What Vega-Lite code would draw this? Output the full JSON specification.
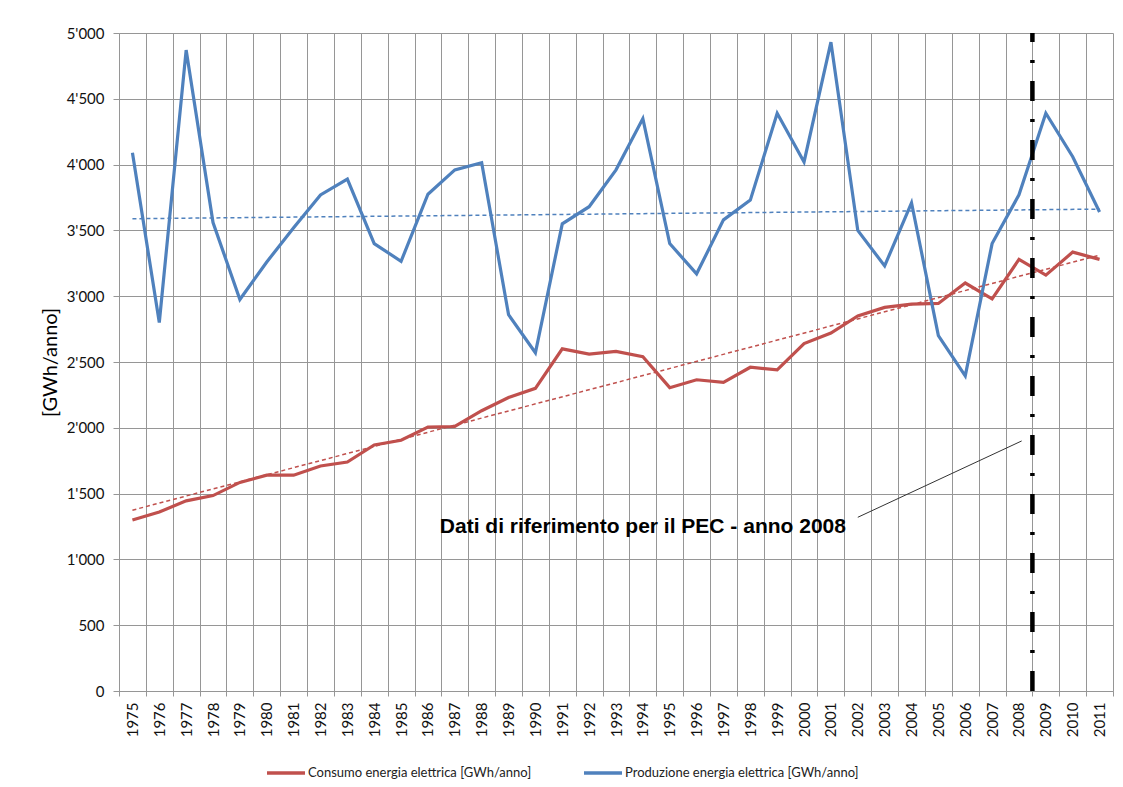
{
  "$schema": "https://vega.github.io/schema/vega-lite/v6.json",
  "width": 994,
  "height": 658,
  "autosize": {"type": "none"},
  "padding": {"left": 119, "top": 33, "right": 10, "bottom": 96},
  "background": "white",
  "config": {
    "font": "Lato",
    "view": {"stroke": null},
    "axis": {"gridColor": "#969696", "domainColor": "#969696", "tickColor": "#969696", "labelColor": "#111111", "labelFont": "Lato", "labelFontSize": 15}
  },
  "resolve": {"axis": {"x": "independent"}},
  "data": {
    "values": [
      {"year": 1975, "series": "Consumo energia elettrica [GWh/anno]", "value": 1300},
      {"year": 1976, "series": "Consumo energia elettrica [GWh/anno]", "value": 1360},
      {"year": 1977, "series": "Consumo energia elettrica [GWh/anno]", "value": 1445},
      {"year": 1978, "series": "Consumo energia elettrica [GWh/anno]", "value": 1485},
      {"year": 1979, "series": "Consumo energia elettrica [GWh/anno]", "value": 1585},
      {"year": 1980, "series": "Consumo energia elettrica [GWh/anno]", "value": 1640},
      {"year": 1981, "series": "Consumo energia elettrica [GWh/anno]", "value": 1640},
      {"year": 1982, "series": "Consumo energia elettrica [GWh/anno]", "value": 1710},
      {"year": 1983, "series": "Consumo energia elettrica [GWh/anno]", "value": 1740},
      {"year": 1984, "series": "Consumo energia elettrica [GWh/anno]", "value": 1870},
      {"year": 1985, "series": "Consumo energia elettrica [GWh/anno]", "value": 1905},
      {"year": 1986, "series": "Consumo energia elettrica [GWh/anno]", "value": 2005},
      {"year": 1987, "series": "Consumo energia elettrica [GWh/anno]", "value": 2010},
      {"year": 1988, "series": "Consumo energia elettrica [GWh/anno]", "value": 2130},
      {"year": 1989, "series": "Consumo energia elettrica [GWh/anno]", "value": 2230},
      {"year": 1990, "series": "Consumo energia elettrica [GWh/anno]", "value": 2300},
      {"year": 1991, "series": "Consumo energia elettrica [GWh/anno]", "value": 2600},
      {"year": 1992, "series": "Consumo energia elettrica [GWh/anno]", "value": 2560},
      {"year": 1993, "series": "Consumo energia elettrica [GWh/anno]", "value": 2580},
      {"year": 1994, "series": "Consumo energia elettrica [GWh/anno]", "value": 2540},
      {"year": 1995, "series": "Consumo energia elettrica [GWh/anno]", "value": 2305},
      {"year": 1996, "series": "Consumo energia elettrica [GWh/anno]", "value": 2365},
      {"year": 1997, "series": "Consumo energia elettrica [GWh/anno]", "value": 2345},
      {"year": 1998, "series": "Consumo energia elettrica [GWh/anno]", "value": 2460},
      {"year": 1999, "series": "Consumo energia elettrica [GWh/anno]", "value": 2440},
      {"year": 2000, "series": "Consumo energia elettrica [GWh/anno]", "value": 2640},
      {"year": 2001, "series": "Consumo energia elettrica [GWh/anno]", "value": 2720},
      {"year": 2002, "series": "Consumo energia elettrica [GWh/anno]", "value": 2850},
      {"year": 2003, "series": "Consumo energia elettrica [GWh/anno]", "value": 2915},
      {"year": 2004, "series": "Consumo energia elettrica [GWh/anno]", "value": 2940},
      {"year": 2005, "series": "Consumo energia elettrica [GWh/anno]", "value": 2945},
      {"year": 2006, "series": "Consumo energia elettrica [GWh/anno]", "value": 3100},
      {"year": 2007, "series": "Consumo energia elettrica [GWh/anno]", "value": 2980},
      {"year": 2008, "series": "Consumo energia elettrica [GWh/anno]", "value": 3280},
      {"year": 2009, "series": "Consumo energia elettrica [GWh/anno]", "value": 3160},
      {"year": 2010, "series": "Consumo energia elettrica [GWh/anno]", "value": 3335},
      {"year": 2011, "series": "Consumo energia elettrica [GWh/anno]", "value": 3280},
      {"year": 1975, "series": "Produzione energia elettrica [GWh/anno]", "value": 4090},
      {"year": 1976, "series": "Produzione energia elettrica [GWh/anno]", "value": 2800},
      {"year": 1977, "series": "Produzione energia elettrica [GWh/anno]", "value": 4870},
      {"year": 1978, "series": "Produzione energia elettrica [GWh/anno]", "value": 3560},
      {"year": 1979, "series": "Produzione energia elettrica [GWh/anno]", "value": 2975},
      {"year": 1980, "series": "Produzione energia elettrica [GWh/anno]", "value": 3260},
      {"year": 1981, "series": "Produzione energia elettrica [GWh/anno]", "value": 3520},
      {"year": 1982, "series": "Produzione energia elettrica [GWh/anno]", "value": 3770},
      {"year": 1983, "series": "Produzione energia elettrica [GWh/anno]", "value": 3890},
      {"year": 1984, "series": "Produzione energia elettrica [GWh/anno]", "value": 3400},
      {"year": 1985, "series": "Produzione energia elettrica [GWh/anno]", "value": 3265},
      {"year": 1986, "series": "Produzione energia elettrica [GWh/anno]", "value": 3775},
      {"year": 1987, "series": "Produzione energia elettrica [GWh/anno]", "value": 3960},
      {"year": 1988, "series": "Produzione energia elettrica [GWh/anno]", "value": 4015},
      {"year": 1989, "series": "Produzione energia elettrica [GWh/anno]", "value": 2860},
      {"year": 1990, "series": "Produzione energia elettrica [GWh/anno]", "value": 2570},
      {"year": 1991, "series": "Produzione energia elettrica [GWh/anno]", "value": 3550},
      {"year": 1992, "series": "Produzione energia elettrica [GWh/anno]", "value": 3680},
      {"year": 1993, "series": "Produzione energia elettrica [GWh/anno]", "value": 3960},
      {"year": 1994, "series": "Produzione energia elettrica [GWh/anno]", "value": 4350},
      {"year": 1995, "series": "Produzione energia elettrica [GWh/anno]", "value": 3400},
      {"year": 1996, "series": "Produzione energia elettrica [GWh/anno]", "value": 3170},
      {"year": 1997, "series": "Produzione energia elettrica [GWh/anno]", "value": 3580},
      {"year": 1998, "series": "Produzione energia elettrica [GWh/anno]", "value": 3730},
      {"year": 1999, "series": "Produzione energia elettrica [GWh/anno]", "value": 4390},
      {"year": 2000, "series": "Produzione energia elettrica [GWh/anno]", "value": 4020},
      {"year": 2001, "series": "Produzione energia elettrica [GWh/anno]", "value": 4930},
      {"year": 2002, "series": "Produzione energia elettrica [GWh/anno]", "value": 3500},
      {"year": 2003, "series": "Produzione energia elettrica [GWh/anno]", "value": 3230},
      {"year": 2004, "series": "Produzione energia elettrica [GWh/anno]", "value": 3710},
      {"year": 2005, "series": "Produzione energia elettrica [GWh/anno]", "value": 2700},
      {"year": 2006, "series": "Produzione energia elettrica [GWh/anno]", "value": 2395},
      {"year": 2007, "series": "Produzione energia elettrica [GWh/anno]", "value": 3400},
      {"year": 2008, "series": "Produzione energia elettrica [GWh/anno]", "value": 3770},
      {"year": 2009, "series": "Produzione energia elettrica [GWh/anno]", "value": 4390},
      {"year": 2010, "series": "Produzione energia elettrica [GWh/anno]", "value": 4060},
      {"year": 2011, "series": "Produzione energia elettrica [GWh/anno]", "value": 3640}
    ]
  },
  "layer": [
    {
      "mark": {"type": "line", "strokeWidth": 3.2},
      "encoding": {
        "x": {
          "field": "year",
          "type": "quantitative",
          "scale": {"domain": [1974.5, 2011.5], "nice": false, "zero": false},
          "axis": {
            "orient": "bottom",
            "title": null,
            "values": [1974.5, 1975.5, 1976.5, 1977.5, 1978.5, 1979.5, 1980.5, 1981.5, 1982.5, 1983.5, 1984.5, 1985.5, 1986.5, 1987.5, 1988.5, 1989.5, 1990.5, 1991.5, 1992.5, 1993.5, 1994.5, 1995.5, 1996.5, 1997.5, 1998.5, 1999.5, 2000.5, 2001.5, 2002.5, 2003.5, 2004.5, 2005.5, 2006.5, 2007.5, 2008.5, 2009.5, 2010.5, 2011.5],
            "labels": false,
            "grid": true,
            "ticks": true,
            "tickSize": 5,
            "domain": true
          }
        },
        "y": {
          "field": "value",
          "type": "quantitative",
          "scale": {"domain": [0, 5000], "nice": false},
          "axis": {
            "title": "[GWh/anno]",
            "titleFontSize": 20,
            "titleFontWeight": "normal",
            "titleColor": "#000000",
            "titleFont": "Lato",
            "titlePadding": 6,
            "values": [0, 500, 1000, 1500, 2000, 2500, 3000, 3500, 4000, 4500, 5000],
            "labelExpr": "replace(format(datum.value, ','), ',', \"'\")",
            "tickSize": 6,
            "labelPadding": 9
          }
        },
        "color": {
          "field": "series",
          "type": "nominal",
          "scale": {"domain": ["Consumo energia elettrica [GWh/anno]", "Produzione energia elettrica [GWh/anno]"], "range": ["#C0504D", "#4F81BD"]},
          "legend": {
            "orient": "none",
            "legendX": 146,
            "legendY": 719,
            "direction": "horizontal",
            "title": null,
            "symbolType": "stroke",
            "symbolSize": 1444,
            "symbolStrokeWidth": 3.5,
            "labelFontSize": 13,
            "labelFont": "Lato",
            "labelColor": "#222222",
            "labelLimit": 400,
            "columnPadding": 45,
            "labelOffset": 1,
            "padding": 0
          }
        }
      }
    },
    {
      "transform": [{"regression": "value", "on": "year", "groupby": ["series"]}],
      "mark": {"type": "line", "strokeWidth": 1.5, "strokeDash": [4, 3]},
      "encoding": {
        "x": {
          "field": "year",
          "type": "quantitative",
          "axis": {
            "orient": "bottom",
            "title": null,
            "values": [1975, 1976, 1977, 1978, 1979, 1980, 1981, 1982, 1983, 1984, 1985, 1986, 1987, 1988, 1989, 1990, 1991, 1992, 1993, 1994, 1995, 1996, 1997, 1998, 1999, 2000, 2001, 2002, 2003, 2004, 2005, 2006, 2007, 2008, 2009, 2010, 2011],
            "format": "d",
            "labelAngle": -90,
            "labelOverlap": false,
            "labelFlush": false,
            "labelPadding": 11,
            "ticks": false,
            "tickSize": 0,
            "grid": false,
            "domain": false
          }
        },
        "y": {"field": "value", "type": "quantitative"},
        "color": {"field": "series", "type": "nominal", "legend": null}
      }
    },
    {
      "data": {"values": [{}]},
      "mark": {"type": "rule", "color": "black", "strokeWidth": 4.5, "strokeDash": [20, 18, 3, 18]},
      "encoding": {
        "x": {"datum": 2008.5, "type": "quantitative", "axis": null},
        "y": {"datum": 0, "type": "quantitative"},
        "y2": {"datum": 5000}
      }
    },
    {
      "data": {"values": [{}]},
      "mark": {"type": "rule", "color": "#333333", "strokeWidth": 1},
      "encoding": {
        "x": {"datum": 2002, "type": "quantitative", "axis": null},
        "x2": {"datum": 2008.1},
        "y": {"datum": 1320, "type": "quantitative"},
        "y2": {"datum": 1900}
      }
    },
    {
      "data": {"values": [{}]},
      "mark": {"type": "text", "font": "Liberation Sans", "fontWeight": "bold", "fontSize": 21, "align": "center", "baseline": "alphabetic", "color": "#000000", "text": "Dati di riferimento per il PEC - anno 2008"},
      "encoding": {
        "x": {"datum": 1994, "type": "quantitative", "axis": null},
        "y": {"datum": 1200, "type": "quantitative"}
      }
    }
  ]
}
